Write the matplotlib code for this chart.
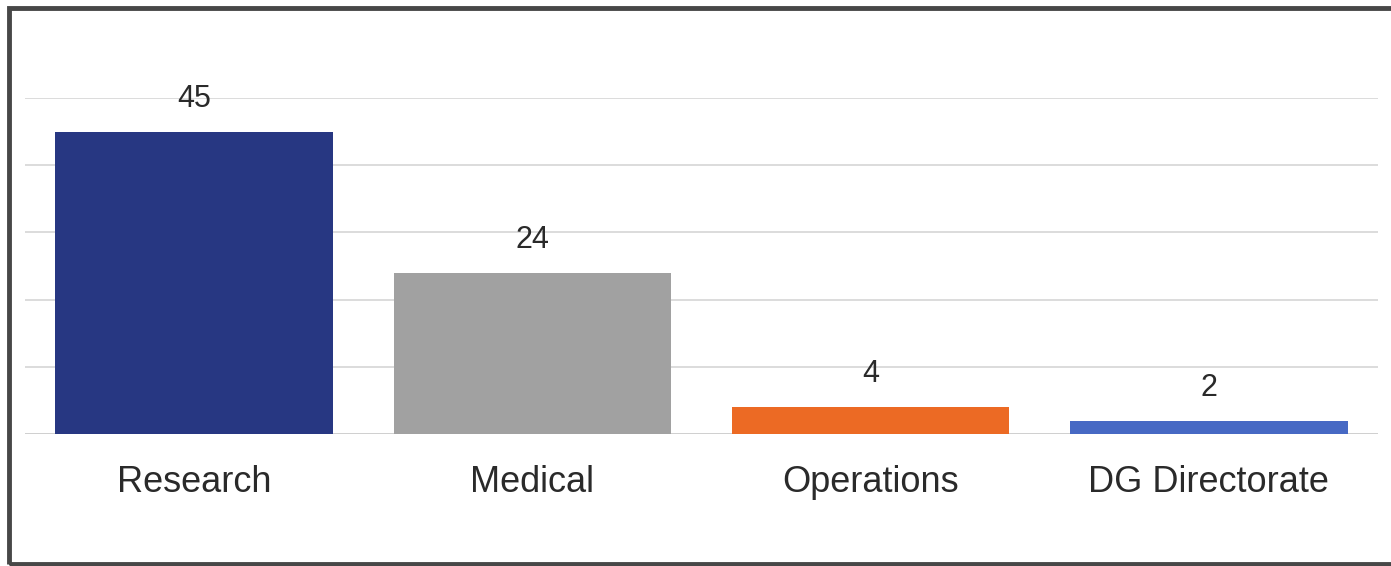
import matplotlib
matplotlib.use("Agg")
import matplotlib.pyplot as plt
from matplotlib.patches import Rectangle

categories = ["Research", "Medical", "Operations", "DG Directorate"]
values = [45, 24, 4, 2]
colors = ["#273782", "#a1a1a1", "#ec6a24", "#4769c4"]
yticks = [0, 10, 20, 30, 40, 50]

plt.rcParams['font.family'] = ['Liberation Sans', 'DejaVu Sans']

W, H, DPI = 1391, 566, 100
fig = plt.figure(figsize=(W / DPI, H / DPI), dpi=DPI)
fig.patch.set_facecolor("white")

ax = fig.add_axes([25 / W, 1 - 434 / H, (1378 - 25) / W, (434 - 98) / H])
ax.set_xlim(-0.5, 3.5)
ax.set_ylim(0, 50)

x = list(range(len(categories)))
ax.bar(x, values, width=0.82, color=colors, zorder=3)

ax.set_yticks(yticks)
ax.yaxis.grid(True, color="#dcdcdc", linewidth=1.4, zorder=0)
ax.tick_params(axis="y", left=False, labelleft=False)
ax.tick_params(axis="x", bottom=False, pad=19)
ax.set_xticks(x)
ax.set_xticklabels(categories, fontsize=26, color="#2a2a2a")
for s in ax.spines.values():
    s.set_visible(False)
ax.axhline(0, color="#d0d0d0", linewidth=1.4, zorder=2)

for xi, v in zip(x, values):
    ax.annotate(str(v), (xi, v), xytext=(0, 18), textcoords="offset points",
                ha="center", va="baseline", fontsize=22, color="#2a2a2a")

# outer frame
fig.patches.append(Rectangle((9 / W, 2.5 / H), (W + 20) / W, (H - 10.5) / H,
                             transform=fig.transFigure, fill=False,
                             edgecolor="#474747", linewidth=3.5))

fig.savefig("out.png", dpi=DPI)
